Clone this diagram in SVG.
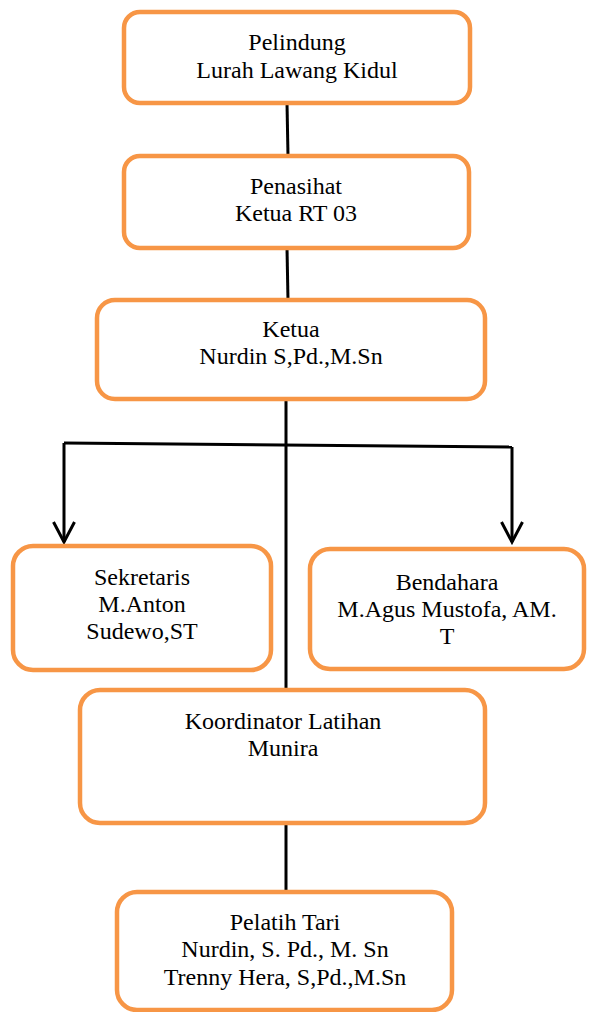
<svg xmlns="http://www.w3.org/2000/svg" width="592" height="1012" viewBox="0 0 592 1012">
<style>
.box{fill:#fff;stroke:#F79646;stroke-width:4.5}
.t{font-family:"Liberation Serif","Times New Roman",serif;font-size:24px;fill:#000;text-anchor:middle}
.c{stroke:#000;stroke-width:3;fill:none}
</style>
<defs>
<marker id="arr" viewBox="0 0 24 24" refX="21" refY="12" markerWidth="24" markerHeight="24" markerUnits="userSpaceOnUse" orient="auto">
<path d="M1,1.5 L21,12 L1,22.5" fill="none" stroke="#000" stroke-width="3"/>
</marker>
</defs>
<g id="connectors">
<path class="c" d="M287,103 L288,156"/>
<path class="c" d="M287,248 L288,300"/>
<path class="c" d="M286,399 L286,690"/>
<path class="c" d="M286,823 L286,891"/>
<path class="c" d="M64,443 L512,447"/>
<path class="c" d="M64,443 L64,542" marker-end="url(#arr)"/>
<path class="c" d="M512,447 L512,542" marker-end="url(#arr)"/>
</g>
<g id="pelindung">
<rect class="box" x="124" y="12" width="346" height="91" rx="16"/>
<text class="t" x="297" y="50">Pelindung</text>
<text class="t" x="297" y="78">Lurah Lawang Kidul</text>
</g>
<g id="penasihat">
<rect class="box" x="124" y="156" width="345" height="92" rx="16"/>
<text class="t" x="296" y="194">Penasihat</text>
<text class="t" x="296" y="221">Ketua RT 03</text>
</g>
<g id="ketua">
<rect class="box" x="97" y="300" width="388" height="99" rx="18"/>
<text class="t" x="291" y="337">Ketua</text>
<text class="t" x="291" y="364">Nurdin S,Pd.,M.Sn</text>
</g>
<g id="sekretaris">
<rect class="box" x="13" y="546" width="258" height="124" rx="20"/>
<text class="t" x="142" y="585">Sekretaris</text>
<text class="t" x="142" y="612">M.Anton</text>
<text class="t" x="142" y="639">Sudewo,ST</text>
</g>
<g id="bendahara">
<rect class="box" x="310" y="549" width="274" height="120" rx="20"/>
<text class="t" x="447" y="590">Bendahara</text>
<text class="t" x="447" y="617">M.Agus Mustofa, AM.</text>
<text class="t" x="447" y="644">T</text>
</g>
<g id="koordinator">
<rect class="box" x="80" y="690" width="405" height="133" rx="20"/>
<text class="t" x="283" y="729">Koordinator Latihan</text>
<text class="t" x="283" y="756">Munira</text>
</g>
<g id="pelatih">
<rect class="box" x="117" y="892" width="335" height="118" rx="20"/>
<text class="t" x="285" y="930">Pelatih Tari</text>
<text class="t" x="285" y="957">Nurdin, S. Pd., M. Sn</text>
<text class="t" x="285" y="985">Trenny Hera, S,Pd.,M.Sn</text>
</g>
</svg>
